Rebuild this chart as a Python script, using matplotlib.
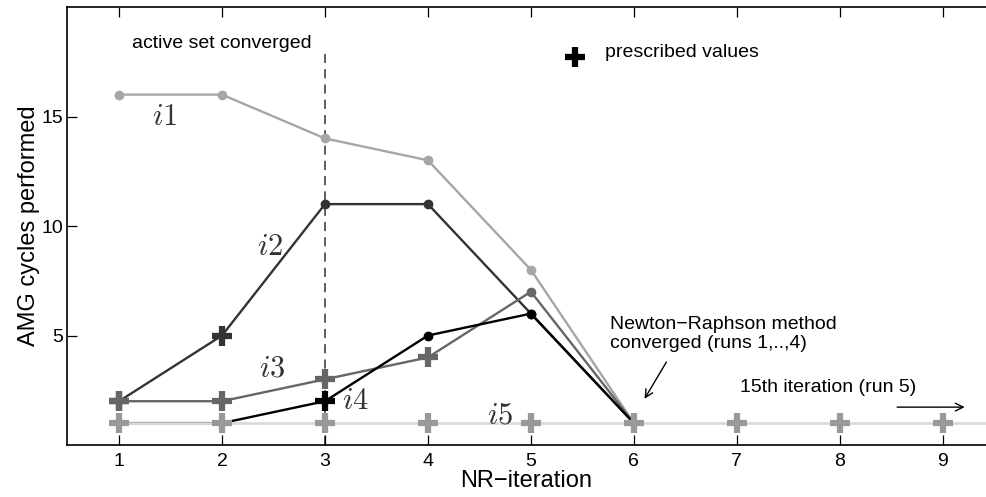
import numpy as np
import matplotlib
matplotlib.use('Agg')
import matplotlib.pyplot as plt

plt.rcParams['font.family'] = ['Liberation Sans', 'DejaVu Sans']
plt.rcParams['mathtext.fontset'] = 'cm'

# NR iterations and AMG cycles for each run
nr_iter = [1, 2, 3, 4, 5, 6]
run1 = [16, 16, 14, 13, 8, 1]
run2 = [2, 5, 11, 11, 6, 1]
run3 = [2, 2, 3, 4, 7, 1]
run4 = [1, 1, 2, 5, 6, 1]
run5_iter = [1, 2, 3, 4, 5, 6, 7, 8, 9, 10]
run5 = [1, 1, 1, 1, 1, 1, 1, 1, 1, 1]

# iterations with prescribed values (plus markers) / computed ones (dots)
pres1, dots1 = [], [1, 2, 3, 4, 5]
pres2, dots2 = [1, 2], [3, 4, 5]
pres3, dots3 = [1, 2, 3, 4], [5]
pres4, dots4 = [3], [4, 5]

fig = plt.figure(figsize=(9.86, 4.97), dpi=100)
ax = fig.add_axes([0.068, 0.1046, 0.932, 0.8813])

runs = [
    (run1, pres1, dots1, '#a6a6a6', '$i1$', (1.44, 15.0)),
    (run2, pres2, dots2, '#333333', '$i2$', (2.47, 9.05)),
    (run3, pres3, dots3, '#666666', '$i3$', (2.49, 3.5)),
    (run4, pres4, dots4, '#000000', '$i4$', (3.30, 2.0)),
]

# dashed line: active set converged
ax.plot([3, 3], [0, 17.9], color='#333333', lw=1.1, ls=(0, (6, 4)), zorder=1)

for vals, pres, dots, col, lab, pos in runs:
    ax.plot(nr_iter, vals, color=col, lw=1.7, zorder=2)
    ax.plot(dots, [vals[i - 1] for i in dots], 'o', color=col, ms=6, zorder=3)
    ax.plot(pres, [vals[i - 1] for i in pres], '+', color=col, ms=15, mew=4.5, zorder=4)
    ax.text(pos[0], pos[1], lab, fontsize=22, color='#333333', ha='center', va='center')

# run 5 (light line with prescribed markers)
ax.plot(run5_iter, run5, color='#d9d9d9', lw=1.9, zorder=2.5)
ax.plot(run5_iter, run5, '+', color='#999999', ms=15, mew=4.5, zorder=4.5)
ax.text(4.70, 1.36, '$i5$', fontsize=22, color='#333333', ha='center', va='center')

# legend-like marker
ax.plot([5.43], [17.7], '+', color='black', ms=15, mew=4.5)
ax.text(5.72, 17.9, 'prescribed values', fontsize=14, va='center')

ax.text(1.995, 18.35, 'active set converged', fontsize=14, ha='center', va='center')

ax.text(5.77, 5.05, 'Newton\u2212Raphson method\nconverged (runs 1,..,4)',
        fontsize=14, ha='left', va='center', linespacing=1.15)
ax.annotate('', xy=(6.09, 2.0), xytext=(6.33, 3.9),
            arrowprops=dict(arrowstyle='->', color='black', lw=1.0, mutation_scale=14))

ax.text(7.03, 2.64, '15th iteration (run 5)', fontsize=14, ha='left', va='center')
ax.annotate('', xy=(9.24, 1.73), xytext=(8.53, 1.73),
            arrowprops=dict(arrowstyle='->', color='black', lw=1.0, mutation_scale=14))

ax.set_xlim(0.495, 9.42)
ax.set_ylim(0, 20)
ax.set_xticks(range(1, 10))
ax.set_yticks([5, 10, 15])
ax.tick_params(direction='in', length=7, width=0.9, labelsize=14, top=True, right=False)
ax.tick_params(axis='x', pad=6)
ax.tick_params(axis='y', pad=3)
ax.spines['right'].set_visible(False)
for s in ['left', 'top', 'bottom']:
    ax.spines[s].set_linewidth(1.2)

ax.set_xlabel('NR\u2212iteration', fontsize=17, labelpad=0)
ax.set_ylabel('AMG cycles performed', fontsize=17, labelpad=1)

fig.savefig('out.png', dpi=100)
